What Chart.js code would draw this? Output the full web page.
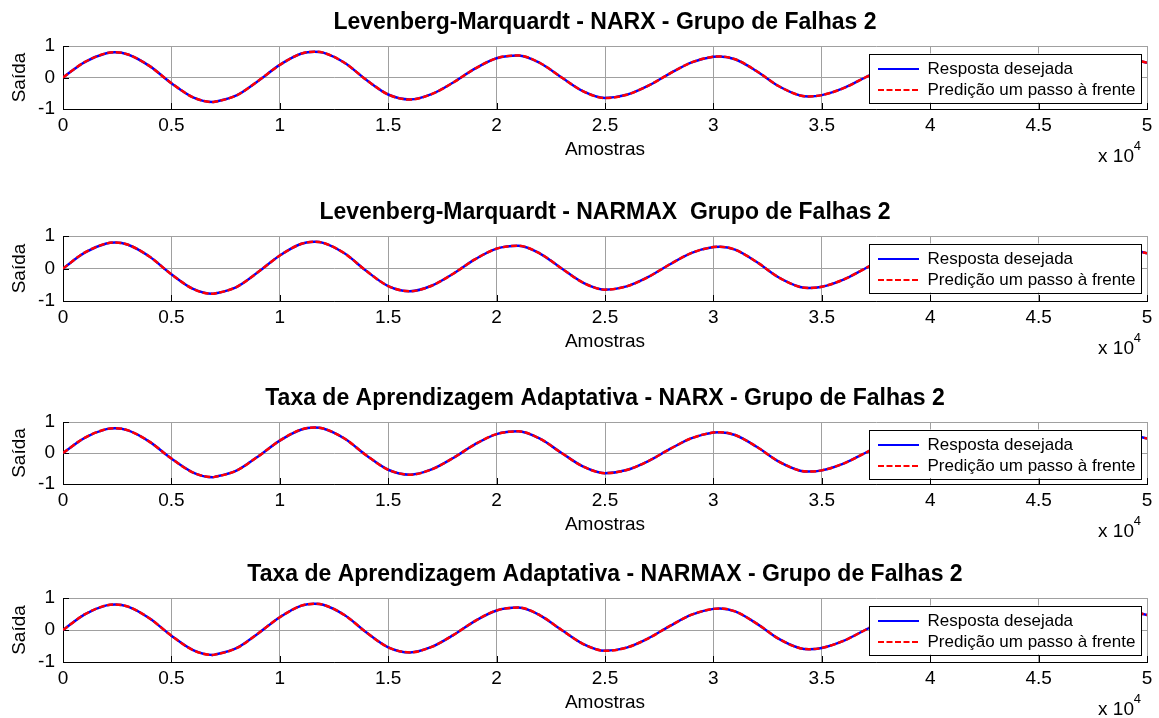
<!DOCTYPE html>
<html>
<head>
<meta charset="utf-8">
<script src="https://cdn.jsdelivr.net/npm/chart.js@4.4.0/dist/chart.umd.min.js"></script>
<style>
  html, body { margin: 0; padding: 0; background: #fff; overflow: hidden; width: 1159px; height: 718px; }
  canvas { position: absolute; left: 0; }
</style>
</head>
<body>
<canvas id="g0"></canvas>
<canvas id="g1"></canvas>
<canvas id="g2"></canvas>
<canvas id="g3"></canvas>
<script>
// amostras (eixo x) e saídas
const amostras = [0, 1000, 2000, 2400, 3000, 4000, 5000, 6000, 6900, 7000,
  8000, 9000, 10000, 11000, 11600, 12000, 13000, 14000, 15000, 16000,
  17000, 18000, 19000, 20000, 21000, 22000, 23000, 24000, 25000, 26000,
  27000, 28000, 29000, 30000, 30300, 31000, 32000, 33000, 34000, 34400,
  35000, 36000, 37000, 38000, 39000, 39600, 40000, 41000, 42000, 43000,
  44000, 45000, 46000, 47000, 48000, 49000, 50000];

const resposta = [0, 0.49, 0.77, 0.80, 0.73, 0.36, -0.18, -0.63, -0.78, -0.77,
  -0.57, -0.11, 0.40, 0.76, 0.82, 0.79, 0.46, -0.08, -0.54, -0.70,
  -0.53, -0.16, 0.28, 0.61, 0.70, 0.46, 0.00, -0.44, -0.65, -0.55,
  -0.26, 0.13, 0.48, 0.66, 0.67, 0.58, 0.20, -0.27, -0.57, -0.60,
  -0.56, -0.34, 0.00, 0.34, 0.56, 0.60, 0.58, 0.33, -0.07, -0.44,
  -0.58, -0.46, -0.14, 0.24, 0.52, 0.60, 0.47];

const predicao = [0, 0.49, 0.77, 0.80, 0.73, 0.36, -0.18, -0.63, -0.78, -0.77,
  -0.57, -0.11, 0.40, 0.76, 0.82, 0.79, 0.46, -0.08, -0.54, -0.70,
  -0.53, -0.16, 0.28, 0.61, 0.70, 0.46, 0.00, -0.44, -0.65, -0.55,
  -0.26, 0.13, 0.48, 0.66, 0.67, 0.58, 0.20, -0.27, -0.57, -0.60,
  -0.56, -0.34, 0.00, 0.34, 0.56, 0.60, 0.58, 0.33, -0.07, -0.44,
  -0.58, -0.46, -0.14, 0.24, 0.52, 0.60, 0.47];

const titulos = [
  'Levenberg-Marquardt - NARX - Grupo de Falhas 2',
  'Levenberg-Marquardt - NARMAX  Grupo de Falhas 2',
  'Taxa de Aprendizagem Adaptativa - NARX - Grupo de Falhas 2',
  'Taxa de Aprendizagem Adaptativa - NARMAX - Grupo de Falhas 2'
];

const rotulosX = ['0', '0.5', '1', '1.5', '2', '2.5', '3', '3.5', '4', '4.5', '5'];
const rotulosY = ['-1', '0', '1'];

// posição vertical de cada eixo na figura
const topoPlot = [46, 236, 422, 598];
const basePlot = [109, 301, 484, 662];

const FONTE = '"Liberation Sans", Arial, Helvetica, sans-serif';
Chart.defaults.font.family = FONTE;
Chart.defaults.color = '#000';

function pontos(ys) {
  return amostras.map((x, i) => ({ x: x, y: ys[i] }));
}

// itens da legenda com o traço do próprio dataset (tracejado no vermelho)
function itensLegenda(chart) {
  const base = Chart.defaults.plugins.legend.labels.generateLabels(chart);
  return base.map(it => {
    const ds = chart.data.datasets[it.datasetIndex];
    it.strokeStyle = ds.borderColor;
    it.lineWidth = 2;
    it.lineDash = ds.borderDash || [];
    return it;
  });
}

const moldura = {
  id: 'moldura',
  afterLayout(chart) {
    // legenda dentro do eixo, canto superior direito
    const lg = chart.legend;
    const a = chart.chartArea;
    const w = lg.width, h = lg.height;
    lg.left = a.right - 273;
    lg.right = lg.left + w;
    lg.top = a.top + 10.5;
    lg.bottom = lg.top + h;
  },
  beforeDatasetsDraw(chart) {
    const { ctx, chartArea: a, scales: { x, y } } = chart;
    ctx.save();
    ctx.strokeStyle = '#000';
    ctx.lineWidth = 1;
    ctx.beginPath();
    x.ticks.forEach(t => {
      const px = Math.round(x.getPixelForValue(t.value)) + 0.5;
      ctx.moveTo(px, a.bottom);
      ctx.lineTo(px, a.bottom - 6);
    });
    y.ticks.forEach(t => {
      const py = Math.round(y.getPixelForValue(t.value)) + 0.5;
      ctx.moveTo(a.left, py);
      ctx.lineTo(a.left + 6, py);
    });
    ctx.stroke();
    ctx.restore();
  },
  afterDatasetsDraw(chart) {
    const { ctx, chartArea: a } = chart;
    const lg = chart.legend;
    ctx.save();
    const bx = lg.left - 5, by = a.top + 7.5, bw = a.right - 6 - bx, bh = 49;
    ctx.fillStyle = '#fff';
    ctx.fillRect(bx, by, bw, bh);
    ctx.strokeStyle = '#000';
    ctx.lineWidth = 1;
    ctx.strokeRect(Math.round(bx) + 0.5, Math.round(by) + 0.5, Math.round(bw), Math.round(bh));
    ctx.restore();
    lg.draw();
  },
  afterDraw(chart) {
    const { ctx, chartArea: a } = chart;
    ctx.save();
    ctx.fillStyle = '#000';
    ctx.textAlign = 'right';
    ctx.textBaseline = 'middle';
    ctx.font = '13px ' + FONTE;
    ctx.fillText('4', a.right - 6, a.bottom + 37.5);
    ctx.font = '19px ' + FONTE;
    ctx.fillText('x 10', a.right - 13, a.bottom + 47.5);
    ctx.restore();
  }
};

titulos.forEach((titulo, k) => {
  const cv = document.getElementById('g' + k);
  const topo = topoPlot[k] - 46;
  cv.width = 1159;
  cv.height = basePlot[k] - topo + 62;
  cv.style.top = topo + 'px';

  new Chart(cv.getContext('2d'), {
    type: 'line',
    data: {
      datasets: [{
        label: 'Resposta desejada',
        data: pontos(resposta),
        borderColor: '#0000ff',
        backgroundColor: '#0000ff',
        borderWidth: 2.5,
        pointRadius: 0,
        cubicInterpolationMode: 'monotone',
        order: 1
      }, {
        label: 'Predição um passo à frente',
        data: pontos(predicao),
        borderColor: '#ff0000',
        backgroundColor: '#ff0000',
        borderWidth: 2.5,
        borderDash: [6, 2.5],
        pointRadius: 0,
        cubicInterpolationMode: 'monotone',
        order: 0
      }]
    },
    options: {
      responsive: false,
      animation: false,
      events: [],
      layout: { padding: { left: 0, right: 12, top: 0, bottom: 0 } },
      plugins: {
        title: {
          display: true,
          text: titulo,
          fullSize: false,
          color: '#000',
          font: { size: 23, weight: 'bold' },
          padding: { top: 8.7, bottom: 9.7 }
        },
        legend: {
          position: 'chartArea',
          align: 'start',
          labels: {
            color: '#000',
            font: { size: 17 },
            padding: 4,
            usePointStyle: true,
            pointStyle: 'line',
            pointStyleWidth: 41,
            generateLabels: itensLegenda,
            sort: (a, b) => a.datasetIndex - b.datasetIndex
          }
        },
        tooltip: { enabled: false }
      },
      scales: {
        x: {
          type: 'linear',
          min: 0,
          max: 50000,
          afterFit: s => { s.height = 62; },
          ticks: {
            stepSize: 5000,
            autoSkip: false,
            maxRotation: 0,
            padding: 5.6,
            font: { size: 19 },
            callback: v => rotulosX[Math.round(v / 5000)]
          },
          grid: { color: '#a0a0a0', lineWidth: 1, drawTicks: false },
          border: { display: true, color: '#000', width: 1 },
          title: { display: true, text: 'Amostras', font: { size: 19 }, padding: { top: 0, bottom: 9.9 } }
        },
        y: {
          min: -1,
          max: 1,
          afterFit: s => { s.width = 63; },
          ticks: {
            stepSize: 1,
            padding: 8,
            font: { size: 19 },
            callback: v => rotulosY[Math.round(v) + 1]
          },
          grid: { color: '#a0a0a0', lineWidth: 1, drawTicks: false },
          border: { display: true, color: '#000', width: 1 },
          title: { display: true, text: 'Saída', font: { size: 19 }, padding: { top: 8.6, bottom: 0 } }
        }
      }
    },
    plugins: [moldura]
  });
});
</script>
</body>
</html>
